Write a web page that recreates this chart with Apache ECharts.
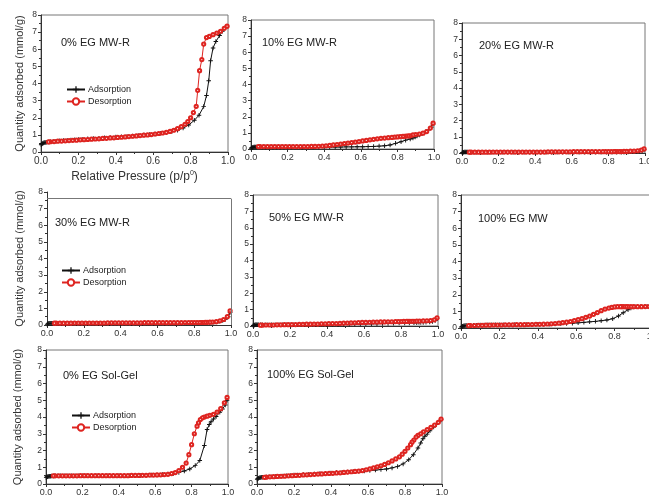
<!DOCTYPE html>
<html>
<head>
<meta charset="utf-8">
<script src="https://cdn.jsdelivr.net/npm/echarts@6/dist/echarts.min.js"></script>
<style>
  html, body { margin: 0; padding: 0; background: #fff; }
  #chart { width: 649px; height: 495px; }
</style>
</head>
<body>
<div id="chart"></div>
<script>
// Relative pressure (p/p0) at which each isotherm point was recorded
const pAds = [0.001,0.004,0.008,0.012,0.016,0.02,0.025,0.03,0.04,0.05,0.065,0.08,0.10,0.12,0.14,0.16,0.18,0.20,0.22,0.25,
  0.28,0.31,0.34,0.37,0.40,0.43,0.46,0.49,0.52,0.55,0.58,0.61,0.64,0.67,0.70,0.73,0.76,0.79,0.82,0.845,
  0.87,0.885,0.897,0.907,0.92,0.935,0.955,0.97,0.985,0.995];
const pDes = [0.995,0.98,0.96,0.94,0.92,0.90,0.885,0.87,0.86,0.848,0.838,0.83,0.815,0.80,0.785,0.77,0.75,0.73,0.71,0.69,
  0.67,0.65,0.63,0.61,0.59,0.57,0.55,0.53,0.51,0.49,0.47,0.45,0.43,0.41,0.39,0.37,0.35,0.33,0.31,0.29,
  0.27,0.25,0.23,0.21,0.19,0.17,0.15,0.13,0.11,0.09,0.07,0.05,0.04];

// Sample names
const sampleNames = ['0% EG MW-R','10% EG MW-R','20% EG MW-R','30% EG MW-R','50% EG MW-R','100% EG MW','0% EG Sol-Gel','100% EG Sol-Gel'];

// Quantity adsorbed (mmol/g), adsorption branch
const ads0MWR = [0.42,0.47,0.50,0.52,0.54,0.55,0.56,0.57,0.58,0.60,0.61,0.63,0.65,0.67,0.69,0.70,0.72,0.73,0.75,0.77,
  0.79,0.81,0.83,0.85,0.87,0.89,0.91,0.93,0.96,0.99,1.02,1.05,1.09,1.13,1.19,1.27,1.40,1.58,1.85,2.15,
  2.65,3.30,4.16,5.33,6.07,6.45,6.80,7.05,7.25,7.35];
const ads10MWR = [0.05,0.08,0.10,0.11,0.12,0.12,0.12,0.12,0.12,0.12,0.12,0.12,0.12,0.12,0.12,0.12,0.12,0.12,0.12,0.12,
  0.12,0.12,0.12,0.12,0.12,0.12,0.12,0.12,0.13,0.13,0.14,0.14,0.15,0.16,0.18,0.20,0.25,0.35,0.45,0.55,
  0.62,0.68,0.74,0.80,0.87,0.95,1.07,1.18,1.35,1.55];
const ads20MWR = [0.02,0.04,0.05,0.06,0.06,0.06,0.06,0.06,0.05,0.05,0.05,0.05,0.05,0.05,0.05,0.05,0.05,0.05,0.05,0.05,
  0.05,0.05,0.05,0.05,0.05,0.05,0.05,0.05,0.05,0.05,0.05,0.05,0.05,0.05,0.05,0.05,0.05,0.05,0.05,0.05,
  0.05,0.05,0.06,0.06,0.07,0.08,0.10,0.13,0.16,0.22];
const ads30MWR = [0.04,0.07,0.09,0.10,0.10,0.10,0.10,0.10,0.09,0.09,0.09,0.09,0.09,0.09,0.09,0.09,0.09,0.09,0.09,0.09,
  0.09,0.09,0.09,0.09,0.10,0.10,0.10,0.10,0.10,0.10,0.10,0.10,0.11,0.11,0.11,0.11,0.12,0.12,0.12,0.13,
  0.14,0.14,0.15,0.16,0.18,0.21,0.27,0.35,0.50,0.75];
const ads50MWR = [0.03,0.05,0.06,0.07,0.07,0.07,0.07,0.07,0.07,0.07,0.07,0.07,0.07,0.07,0.07,0.07,0.07,0.07,0.08,0.08,
  0.08,0.08,0.08,0.08,0.08,0.09,0.09,0.10,0.11,0.12,0.12,0.13,0.14,0.14,0.15,0.16,0.17,0.18,0.19,0.19,
  0.20,0.20,0.21,0.21,0.22,0.23,0.25,0.28,0.33,0.45];
const ads100MW = [0.05,0.08,0.10,0.12,0.13,0.14,0.15,0.15,0.16,0.16,0.17,0.17,0.18,0.18,0.19,0.19,0.19,0.20,0.20,0.20,
  0.21,0.21,0.21,0.22,0.22,0.22,0.23,0.24,0.25,0.27,0.29,0.31,0.34,0.37,0.40,0.44,0.48,0.56,0.72,0.92,
  1.10,1.20,1.26,1.28,1.28,1.28,1.29,1.29,1.29,1.30];
const ads0SG = [0.38,0.42,0.44,0.45,0.46,0.47,0.47,0.48,0.48,0.49,0.49,0.49,0.50,0.50,0.50,0.50,0.50,0.50,0.50,0.50,
  0.50,0.50,0.50,0.50,0.50,0.50,0.50,0.50,0.51,0.52,0.53,0.54,0.56,0.59,0.63,0.69,0.78,0.90,1.10,1.40,
  2.30,3.25,3.55,3.72,3.88,4.03,4.28,4.48,4.72,5.00];
const ads100SG = [0.28,0.32,0.35,0.37,0.38,0.39,0.40,0.40,0.41,0.42,0.43,0.44,0.45,0.47,0.48,0.50,0.51,0.53,0.54,0.56,
  0.58,0.60,0.62,0.64,0.66,0.68,0.70,0.72,0.74,0.76,0.78,0.80,0.83,0.86,0.90,0.96,1.05,1.20,1.45,1.75,
  2.15,2.45,2.70,2.85,2.98,3.18,3.40,3.55,3.72,3.86];

// Quantity adsorbed (mmol/g), desorption branch
const des0MWR = [7.35,7.22,7.05,6.95,6.85,6.75,6.68,6.30,5.40,4.75,3.60,2.67,2.30,2.00,1.78,1.62,1.48,1.36,1.27,1.20,
  1.15,1.11,1.08,1.05,1.02,1.00,0.98,0.96,0.94,0.92,0.90,0.88,0.86,0.85,0.83,0.82,0.80,0.79,0.77,0.76,
  0.75,0.73,0.72,0.71,0.69,0.68,0.67,0.65,0.64,0.63,0.61,0.60,0.59];
const des10MWR = [1.60,1.30,1.08,0.98,0.93,0.90,0.87,0.82,0.81,0.80,0.79,0.78,0.77,0.75,0.74,0.72,0.70,0.68,0.66,0.63,
  0.60,0.57,0.53,0.50,0.46,0.43,0.40,0.37,0.34,0.31,0.28,0.25,0.22,0.20,0.18,0.17,0.16,0.16,0.15,0.15,
  0.15,0.15,0.15,0.15,0.15,0.15,0.15,0.15,0.15,0.15,0.15,0.15,0.15];
const des20MWR = [0.25,0.18,0.14,0.12,0.11,0.10,0.10,0.09,0.09,0.09,0.09,0.09,0.08,0.08,0.08,0.08,0.08,0.08,0.08,0.08,
  0.08,0.08,0.08,0.08,0.07,0.07,0.07,0.07,0.07,0.07,0.07,0.06,0.06,0.06,0.06,0.06,0.06,0.06,0.06,0.06,
  0.06,0.06,0.06,0.06,0.06,0.06,0.05,0.05,0.05,0.05,0.05,0.05,0.05];
const des30MWR = [0.85,0.50,0.33,0.25,0.20,0.18,0.17,0.16,0.16,0.15,0.15,0.15,0.15,0.15,0.15,0.15,0.15,0.14,0.14,0.14,
  0.14,0.14,0.14,0.14,0.14,0.14,0.14,0.14,0.13,0.13,0.13,0.13,0.13,0.13,0.13,0.13,0.13,0.13,0.12,0.12,
  0.12,0.12,0.12,0.12,0.12,0.12,0.12,0.11,0.11,0.11,0.11,0.11,0.11];
const des50MWR = [0.50,0.38,0.33,0.32,0.31,0.30,0.30,0.29,0.29,0.29,0.28,0.28,0.28,0.27,0.27,0.27,0.26,0.26,0.25,0.25,
  0.24,0.24,0.23,0.22,0.22,0.21,0.20,0.19,0.18,0.17,0.16,0.15,0.15,0.14,0.13,0.13,0.12,0.12,0.11,0.11,
  0.10,0.10,0.09,0.09,0.08,0.08,0.07,0.07,0.06,0.06,0.06,0.05,0.05];
const des100MW = [1.30,1.29,1.29,1.28,1.28,1.28,1.28,1.28,1.28,1.28,1.28,1.28,1.28,1.27,1.24,1.20,1.14,1.04,0.93,0.82,
  0.72,0.64,0.56,0.50,0.44,0.39,0.35,0.32,0.29,0.27,0.25,0.24,0.23,0.22,0.22,0.21,0.21,0.20,0.20,0.20,
  0.19,0.19,0.19,0.18,0.18,0.18,0.17,0.17,0.16,0.16,0.15,0.15,0.14];
const des0SG = [5.17,4.85,4.50,4.30,4.16,4.10,4.05,4.00,3.95,3.85,3.65,3.45,3.00,2.35,1.75,1.25,1.00,0.80,0.68,0.62,
  0.58,0.56,0.55,0.54,0.53,0.53,0.52,0.52,0.51,0.51,0.51,0.50,0.50,0.50,0.50,0.50,0.50,0.50,0.50,0.50,
  0.50,0.50,0.50,0.50,0.50,0.49,0.49,0.49,0.49,0.49,0.49,0.49,0.49];
const des100SG = [3.88,3.68,3.52,3.38,3.25,3.12,3.00,2.90,2.80,2.62,2.50,2.35,2.15,1.95,1.78,1.62,1.50,1.38,1.27,1.17,
  1.09,1.03,0.96,0.90,0.85,0.80,0.77,0.75,0.73,0.71,0.69,0.67,0.66,0.64,0.63,0.62,0.60,0.59,0.58,0.56,
  0.55,0.54,0.52,0.51,0.50,0.49,0.47,0.46,0.45,0.44,0.43,0.41,0.40];

const adsSets = [ads0MWR, ads10MWR, ads20MWR, ads30MWR, ads50MWR, ads100MW, ads0SG, ads100SG];
const desSets = [des0MWR, des10MWR, des20MWR, des30MWR, des50MWR, des100MW, des0SG, des100SG];

// Axis ticks
const xTicks = [0, 0.2, 0.4, 0.6, 0.8, 1.0];
const yTicks = [0, 1, 2, 3, 4, 5, 6, 7, 8];

// Panel layout (pixels)
const panels = [
  { left: 41,  top: 15,  width: 187, height: 137, tx: 61,  ty: 37,  xFont: 10 },
  { left: 251, top: 20,  width: 183, height: 129, tx: 262, ty: 37,  xFont: 9 },
  { left: 462, top: 23,  width: 183, height: 130, tx: 479, ty: 40,  xFont: 9 },
  { left: 47,  top: 192, width: 184, height: 133, tx: 55,  ty: 217, xFont: 9, frameTop: 7.6 },
  { left: 253, top: 195, width: 185, height: 131, tx: 269, ty: 212, xFont: 9 },
  { left: 461, top: 195, width: 192, height: 133, tx: 478, ty: 213, xFont: 9 },
  { left: 46,  top: 350, width: 182, height: 134, tx: 63,  ty: 370, xFont: 9 },
  { left: 257, top: 350, width: 185, height: 134, tx: 267, ty: 369, xFont: 9 }
];
const legendSpots = [
  { panel: 0, left: 66, top: 85 },
  { panel: 3, left: 61, top: 266 },
  { panel: 6, left: 71, top: 411 }
];
const yNameGap = { 0: 16, 3: 22, 6: 23 };

const FONT = 'Arial, "Liberation Sans", Helvetica, sans-serif';
const RED = '#de2420';
const BLACK = '#111';
const PLUS = 'path://M4,0H6V4H10V6H6V10H4V6H0V4H4Z';

const pairs = (ps, qs) => ps.map((p, i) => [p, qs[i]]);

const grid = [], xAxis = [], yAxis = [], series = [], title = [];

panels.forEach((g, i) => {
  grid.push({
    left: g.left, top: g.top, width: g.width, height: g.height,
    show: g.frameTop === undefined, borderColor: '#777', borderWidth: 1,
    containLabel: false, outerBoundsMode: 'none'
  });
  xAxis.push({
    gridIndex: i, type: 'value', min: xTicks[0], max: xTicks[xTicks.length - 1],
    interval: xTicks[1] - xTicks[0],
    axisLine: { show: true, onZero: false, lineStyle: { color: '#333', width: 1 } },
    axisTick: { show: true, inside: false, length: 3, lineStyle: { color: '#333' } },
    minorTick: { show: true, splitNumber: 2, length: 2, lineStyle: { color: '#333' } },
    splitLine: { show: false },
    axisLabel: { fontFamily: FONT, fontSize: g.xFont, color: '#333', margin: 4,
      formatter: v => v.toFixed(1) },
    name: i === 0 ? 'Relative Pressure (p/p{sup|0})' : '',
    nameLocation: 'middle', nameGap: 18,
    nameTextStyle: { fontFamily: FONT, fontSize: 12, color: '#333',
      rich: { sup: { fontSize: 7, verticalAlign: 'top', padding: [0, 0, 7, 0], fontFamily: FONT, color: '#333' } } }
  });
  yAxis.push({
    gridIndex: i, type: 'value', min: yTicks[0], max: yTicks[yTicks.length - 1],
    interval: yTicks[1] - yTicks[0],
    axisLine: { show: true, onZero: false, lineStyle: { color: '#333', width: 1 } },
    axisTick: { show: true, inside: false, length: 3, lineStyle: { color: '#333' } },
    minorTick: { show: true, splitNumber: 2, length: 2, lineStyle: { color: '#333' } },
    splitLine: { show: false },
    axisLabel: { fontFamily: FONT, fontSize: 8.5, color: '#333', margin: 4 },
    name: yNameGap[i] !== undefined ? 'Quantity adsorbed (mmol/g)' : '',
    nameLocation: 'middle', nameGap: yNameGap[i] || 0,
    nameTextStyle: { fontFamily: FONT, fontSize: 11, color: '#333' }
  });
  title.push({
    text: sampleNames[i], left: g.tx, top: g.ty, padding: 0,
    textStyle: { fontFamily: FONT, fontSize: 11, fontWeight: 'normal', color: '#222' }
  });

  const ads = {
    name: 'Adsorption', type: 'line', xAxisIndex: i, yAxisIndex: i,
    data: pairs(pAds, adsSets[i]),
    symbol: PLUS, symbolSize: 4.5,
    lineStyle: { color: BLACK, width: 1 },
    itemStyle: { color: BLACK, borderWidth: 0 },
    animation: false, silent: true
  };
  if (g.frameTop !== undefined) {
    // Frame closing the panel at the top and on the right
    ads.markLine = {
      silent: true, symbol: 'none', label: { show: false },
      lineStyle: { color: '#777', width: 1, type: 'solid' },
      data: [
        [{ coord: [xTicks[0], g.frameTop] }, { coord: [xTicks[xTicks.length - 1], g.frameTop] }],
        [{ coord: [xTicks[xTicks.length - 1], yTicks[0]] }, { coord: [xTicks[xTicks.length - 1], g.frameTop] }]
      ]
    };
  }
  series.push(ads);
  series.push({
    name: 'Desorption', type: 'line', xAxisIndex: i, yAxisIndex: i,
    data: pairs(pDes, desSets[i]),
    symbol: 'emptyCircle', symbolSize: 3.2,
    lineStyle: { color: RED, width: 1 },
    itemStyle: { color: RED, borderColor: RED, borderWidth: 0.8 },
    animation: false, silent: true
  });
});

const legend = legendSpots.map(s => ({
  left: s.left, top: s.top, orient: 'vertical', selectedMode: false,
  itemWidth: 18, itemHeight: 8, itemGap: 3, padding: 0,
  textStyle: { fontFamily: FONT, fontSize: 9, color: '#222', padding: [0, 0, 0, -2] },
  data: [
    { name: 'Adsorption', itemStyle: { borderWidth: 0 } },
    { name: 'Desorption', itemStyle: { borderWidth: 1 } }
  ]
}));

const chart = echarts.init(document.getElementById('chart'), null, { renderer: 'canvas' });
chart.setOption({
  backgroundColor: '#fff',
  animation: false,
  title, legend, grid, xAxis, yAxis, series
});
</script>
</body>
</html>
